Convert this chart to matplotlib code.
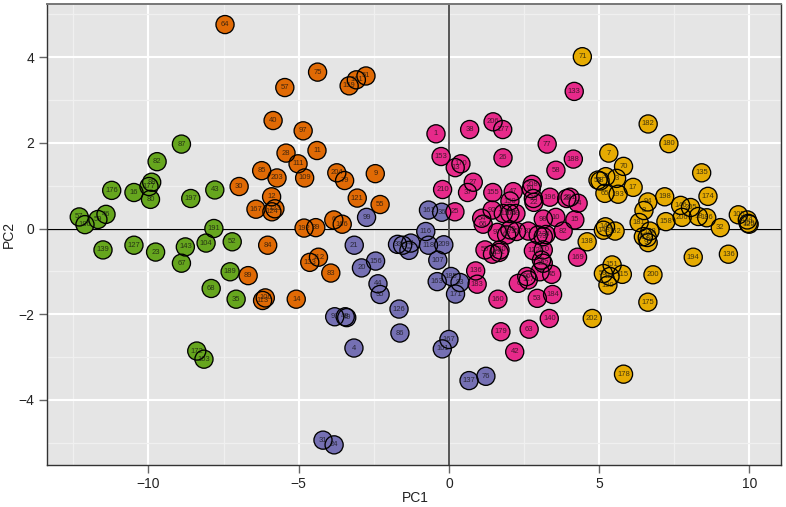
import matplotlib
matplotlib.use("Agg")
import matplotlib.pyplot as plt
from matplotlib.ticker import MultipleLocator

green_pc1 = [-8.9,-9.71,-11.22,-10.48,-9.89,-9.98,-9.93,-8.59,-7.79,-12.30,-12.11,-11.68,-11.41,-7.82,-8.08,-7.21,-11.51,-10.48,-9.76,-8.77,-8.90,-7.28,-7.91,-7.08,-8.39,-8.15]
green_pc2 = [1.97,1.56,0.89,0.84,1.08,0.98,0.68,0.70,0.90,0.27,0.09,0.21,0.33,0.00,-0.34,-0.31,-0.50,-0.39,-0.55,-0.43,-0.81,-1.01,-1.40,-1.65,-2.86,-3.05]
green_labels = ["87","82","176","16","88","177","80","197","43","57","186","59","46","191","104","52","139","127","23","143","67","189","68","35","172","103"]

orange_pc1 = [-7.45,-4.37,-5.46,-2.76,-3.08,-3.32,-5.85,-4.85,-4.39,-5.42,-5.02,-6.23,-5.72,-4.80,-3.73,-3.47,-2.45,-6.98,-3.05,-2.29,-5.90,-6.42,-5.79,-5.89,-3.83,-3.55,-4.82,-4.43,-6.03,-4.34,-4.63,-3.93,-6.68,-6.11,-6.20,-5.08]
orange_pc2 = [4.76,3.65,3.29,3.56,3.47,3.33,2.52,2.28,1.82,1.76,1.51,1.35,1.18,1.18,1.30,1.12,1.28,0.98,0.71,0.56,0.74,0.45,0.46,0.39,0.20,0.10,0.01,0.02,-0.39,-0.67,-0.79,-1.04,-1.10,-1.62,-1.68,-1.65]
orange_labels = ["64","75","57","51","161","159","40","97","11","28","111","85","203","109","204","79","9","30","121","55","12","167","123","124","6","166","192","39","84","112","133","83","89","106","113","14"]

purple_pc1 = [-2.74,-0.68,-0.24,-0.77,-0.68,-0.17,-3.15,-1.71,-1.54,-1.27,-1.33,-2.44,-2.91,-0.37,-2.36,-2.29,-0.39,-1.66,-3.80,-3.45,-3.40,-1.63,-3.16,-4.19,-3.82,0.67,1.23,0.0,-0.22,0.07,0.37,0.22]
purple_pc2 = [0.26,0.43,0.38,-0.07,-0.39,-0.38,-0.39,-0.37,-0.39,-0.34,-0.51,-0.76,-0.92,-0.74,-1.29,-1.54,-1.24,-1.88,-2.06,-2.06,-2.08,-2.44,-2.79,-4.94,-5.05,-3.55,-3.45,-2.59,-2.81,-1.12,-1.26,-1.53]
purple_labels = ["99","161","36","116","118","209","21","30","95","41","5","156","20","107","44","35","163","126","91","48","49","86","4","31","24","137","76","167","101","185","93","171"]

pink_pc1 = [-0.43,0.69,1.47,1.79,-0.26,0.40,0.21,1.80,-0.21,0.81,0.62,1.46,2.14,4.17,3.27,4.14,3.56,2.77,2.74,3.36,4.03,4.30,2.81,0.20,2.83,3.92,2.03,1.44,1.81,2.03,2.23,3.14,3.56,1.09,1.14,4.19,3.80,1.61,2.03,1.92,2.25,2.64,2.97,3.14,3.23,1.20,1.45,1.70,1.67,2.81,3.14,4.28,3.08,3.14,3.03,3.42,0.89,0.94,2.31,2.59,2.64,1.63,2.94,3.45,3.34,2.67,1.73,2.19]
pink_pc2 = [2.21,2.31,2.49,2.31,1.68,1.51,1.42,1.65,0.91,1.08,0.84,0.84,0.86,3.20,1.97,1.62,1.36,1.03,0.93,0.73,0.73,0.59,0.70,0.39,0.61,0.70,0.64,0.43,0.35,0.35,0.35,0.22,0.26,0.24,0.10,0.20,-0.06,-0.09,-0.03,-0.15,-0.07,-0.06,-0.15,-0.19,-0.14,-0.50,-0.60,-0.50,-0.56,-0.52,-0.50,-0.67,-0.74,-0.81,-1.01,-1.07,-0.99,-1.30,-1.28,-1.12,-1.20,-1.65,-1.63,-1.54,-2.10,-2.35,-2.41,-2.88]
pink_labels = ["1","38","206","177","153","170","13","26","210","27","37","155","47","133","77","188","58","208","61","196","201","74","19","25","22","29","150","92","119","164","69","98","10","54","66","15","82","97","145","62","157","81","72","73","34","50","60","130","131","122","110","169","2","102","78","45","136","183","6","96","117","160","53","184","140","63","179","42"]

yellow_pc1 = [4.44,6.63,7.32,5.32,5.81,8.41,4.96,5.03,5.22,5.58,5.19,5.63,6.13,8.62,7.18,6.62,6.49,7.71,8.04,7.76,8.30,8.58,7.22,6.33,9.63,9.93,9.96,9.99,9.03,5.21,5.14,5.53,6.69,6.47,6.60,6.63,4.60,8.13,9.30,5.43,5.14,5.77,5.36,6.79,5.29,6.62,4.77,5.81]
yellow_pc2 = [4.01,2.44,1.98,1.76,1.45,1.30,1.13,1.11,1.21,1.17,0.82,0.80,0.96,0.75,0.74,0.62,0.42,0.54,0.49,0.26,0.28,0.25,0.16,0.14,0.32,0.20,0.12,0.10,0.02,0.04,-0.04,-0.06,-0.06,-0.19,-0.21,-0.33,-0.31,-0.67,-0.60,-0.85,-1.05,-1.07,-1.12,-1.08,-1.32,-1.72,-2.10,-3.40]
yellow_labels = ["71","182","180","7","70","135","56","88","33","3","65","193","17","174","198","94","8","146","205","206","18","186","158","181","105","154","100","125","32","149","148","152","128","173","132","90","138","194","136","151","59","115","114","200","190","175","202","178"]

groups = [
    (green_pc1, green_pc2, green_labels, "#66A61E"),
    (orange_pc1, orange_pc2, orange_labels, "#E06A05"),
    (purple_pc1, purple_pc2, purple_labels, "#7570B3"),
    (pink_pc1, pink_pc2, pink_labels, "#E7298A"),
    (yellow_pc1, yellow_pc2, yellow_labels, "#E6AB02"),
]

plt.rcParams["font.family"] = ["Liberation Sans", "DejaVu Sans"]
fig = plt.figure(figsize=(7.86, 5.07), dpi=100)
W, H = 786, 507
L, R, T, B = 46.5, 781, 4, 465
ax = fig.add_axes([L / W, 1 - B / H, (R - L) / W, (B - T) / H])
ax.set_facecolor("#E5E5E5")
ax.set_xlim(-13.39, 11.05)
ax.set_ylim(-5.52, 5.24)
ax.xaxis.set_major_locator(MultipleLocator(5))
ax.xaxis.set_minor_locator(MultipleLocator(2.5))
ax.yaxis.set_major_locator(MultipleLocator(2))
ax.yaxis.set_minor_locator(MultipleLocator(1))
ax.set_axisbelow(True)
ax.grid(which="major", color="white", lw=1.5)
ax.grid(which="minor", color="#F0F0F0", lw=0.9)
ax.axhline(0, color="black", lw=0.9, zorder=1)
ax.axvline(0, color="#555555", lw=1.4, zorder=1)
for x, y, labels, color in groups:
    ax.scatter(x, y, s=170, facecolor=color, edgecolor="none", zorder=2)
for x, y, labels, color in groups:
    ax.scatter(x, y, s=170, facecolor="none", edgecolor="black", linewidth=0.95, zorder=3)
    for xi, yi, lab in zip(x, y, labels):
        ax.text(xi, yi, lab, fontsize=5.5, ha="center", va="center", color="#111111", alpha=0.75, zorder=4)
ax.spines["top"].set_color("#777777")
ax.spines["top"].set_linewidth(1.4)
for s in ("left", "bottom", "right"):
    ax.spines[s].set_color("#333333")
    ax.spines[s].set_linewidth(1.0)
ax.tick_params(which="major", length=6, width=1.0, color="#666666", labelsize=10, pad=3, labelcolor="#222222")
ax.tick_params(which="minor", length=0)
ax.set_xticks([-10, -5, 0, 5, 10])
ax.set_yticks([-4, -2, 0, 2, 4])
ax.set_xticklabels(["\u221210", "\u22125", "0", "5", "10"])
ax.set_yticklabels(["\u22124", "\u22122", "0", "2", "4"])
fig.text(415 / W, 1 - 498 / H, "PC1", fontsize=10, color="#222222", ha="center", va="center")
fig.text(8.5 / W, 1 - 234 / H, "PC2", fontsize=10, color="#222222", ha="center", va="center", rotation=90)
fig.savefig("out.png", dpi=100)
